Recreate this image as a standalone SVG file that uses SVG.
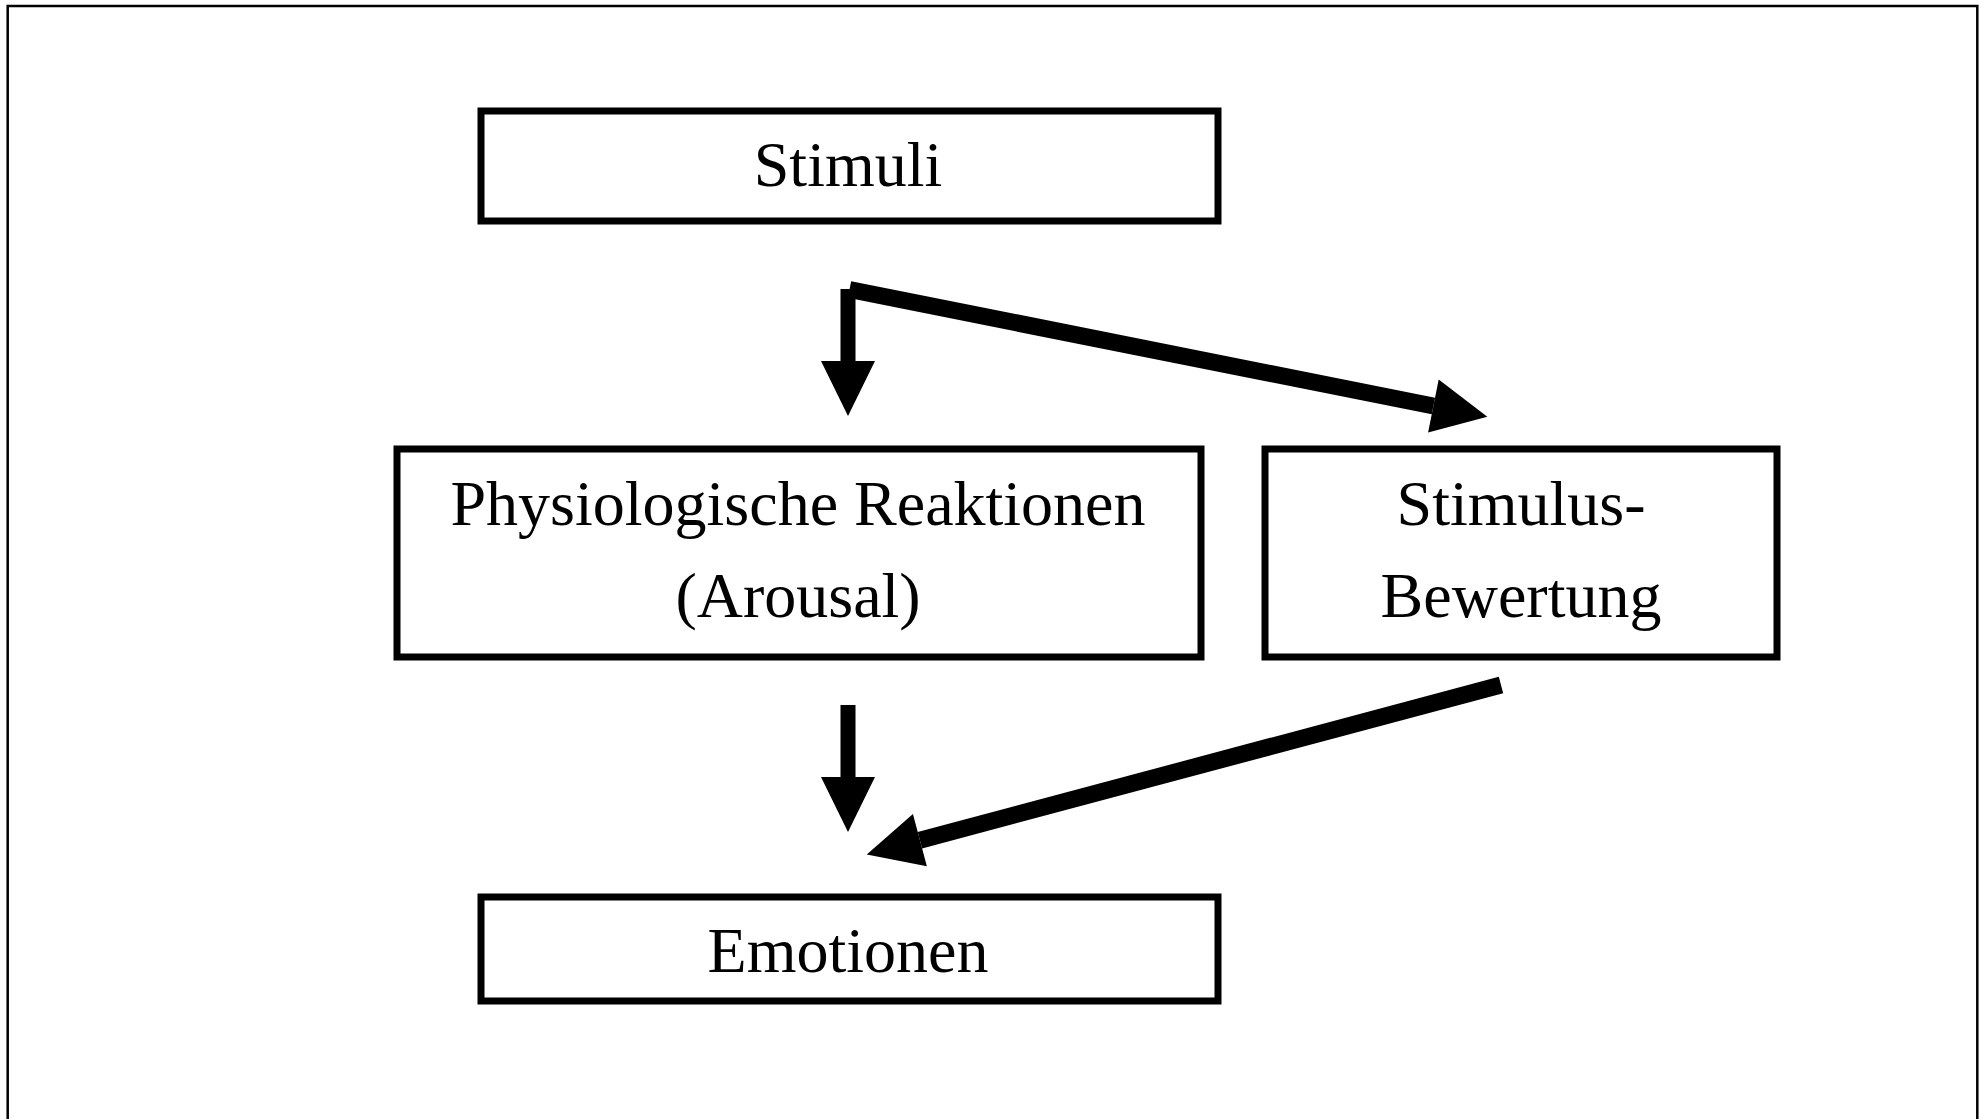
<svg xmlns="http://www.w3.org/2000/svg" width="1984" height="1119" viewBox="0 0 1984 1119">
  <style>
    .frame { fill: none; stroke: #000; stroke-width: 2.5; }
    .box { fill: #fff; stroke: #000; stroke-width: 7; }
    .label { font-family: "Liberation Serif", "Times New Roman", serif; font-size: 64px; fill: #000; text-anchor: middle; }
    .shaft { stroke: #000; stroke-linecap: butt; fill: none; marker-end: url(#head); }
    .vert { stroke-width: 15; }
    .diag { stroke-width: 17; }
  </style>
  <defs>
    <marker id="head" markerUnits="userSpaceOnUse" markerWidth="56" markerHeight="56" refX="0" refY="27" orient="auto" overflow="visible">
      <path d="M0,0 L55,27 L0,54 Z" fill="#000"/>
    </marker>
  </defs>

  <rect width="1984" height="1119" fill="#fff"/>
  <!-- page frame, open at the bottom edge -->
  <rect class="frame" x="7.7" y="6" width="1969.6" height="1140"/>

  <g id="stimuli">
    <rect class="box" x="481" y="111" width="737" height="110"/>
    <text class="label" x="848" y="186">Stimuli</text>
  </g>

  <g id="physiologische-reaktionen">
    <rect class="box" x="397" y="449" width="804" height="208"/>
    <text class="label" x="798" y="525">Physiologische Reaktionen</text>
    <text class="label" x="798" y="617">(Arousal)</text>
  </g>

  <g id="stimulus-bewertung">
    <rect class="box" x="1265" y="449" width="512" height="208"/>
    <text class="label" x="1521" y="525">Stimulus-</text>
    <text class="label" x="1521" y="617">Bewertung</text>
  </g>

  <g id="emotionen">
    <rect class="box" x="481" y="897" width="737" height="104"/>
    <text class="label" x="848" y="972">Emotionen</text>
  </g>

  <g id="connectors">
    <line class="shaft vert" x1="848" y1="289" x2="848" y2="361"/>
    <line class="shaft diag" x1="849.5" y1="289.5" x2="1433.4" y2="406"/>
    <line class="shaft vert" x1="848" y1="705" x2="848" y2="777"/>
    <line class="shaft diag" x1="1501" y1="685" x2="919.9" y2="840.2"/>
  </g>
</svg>
